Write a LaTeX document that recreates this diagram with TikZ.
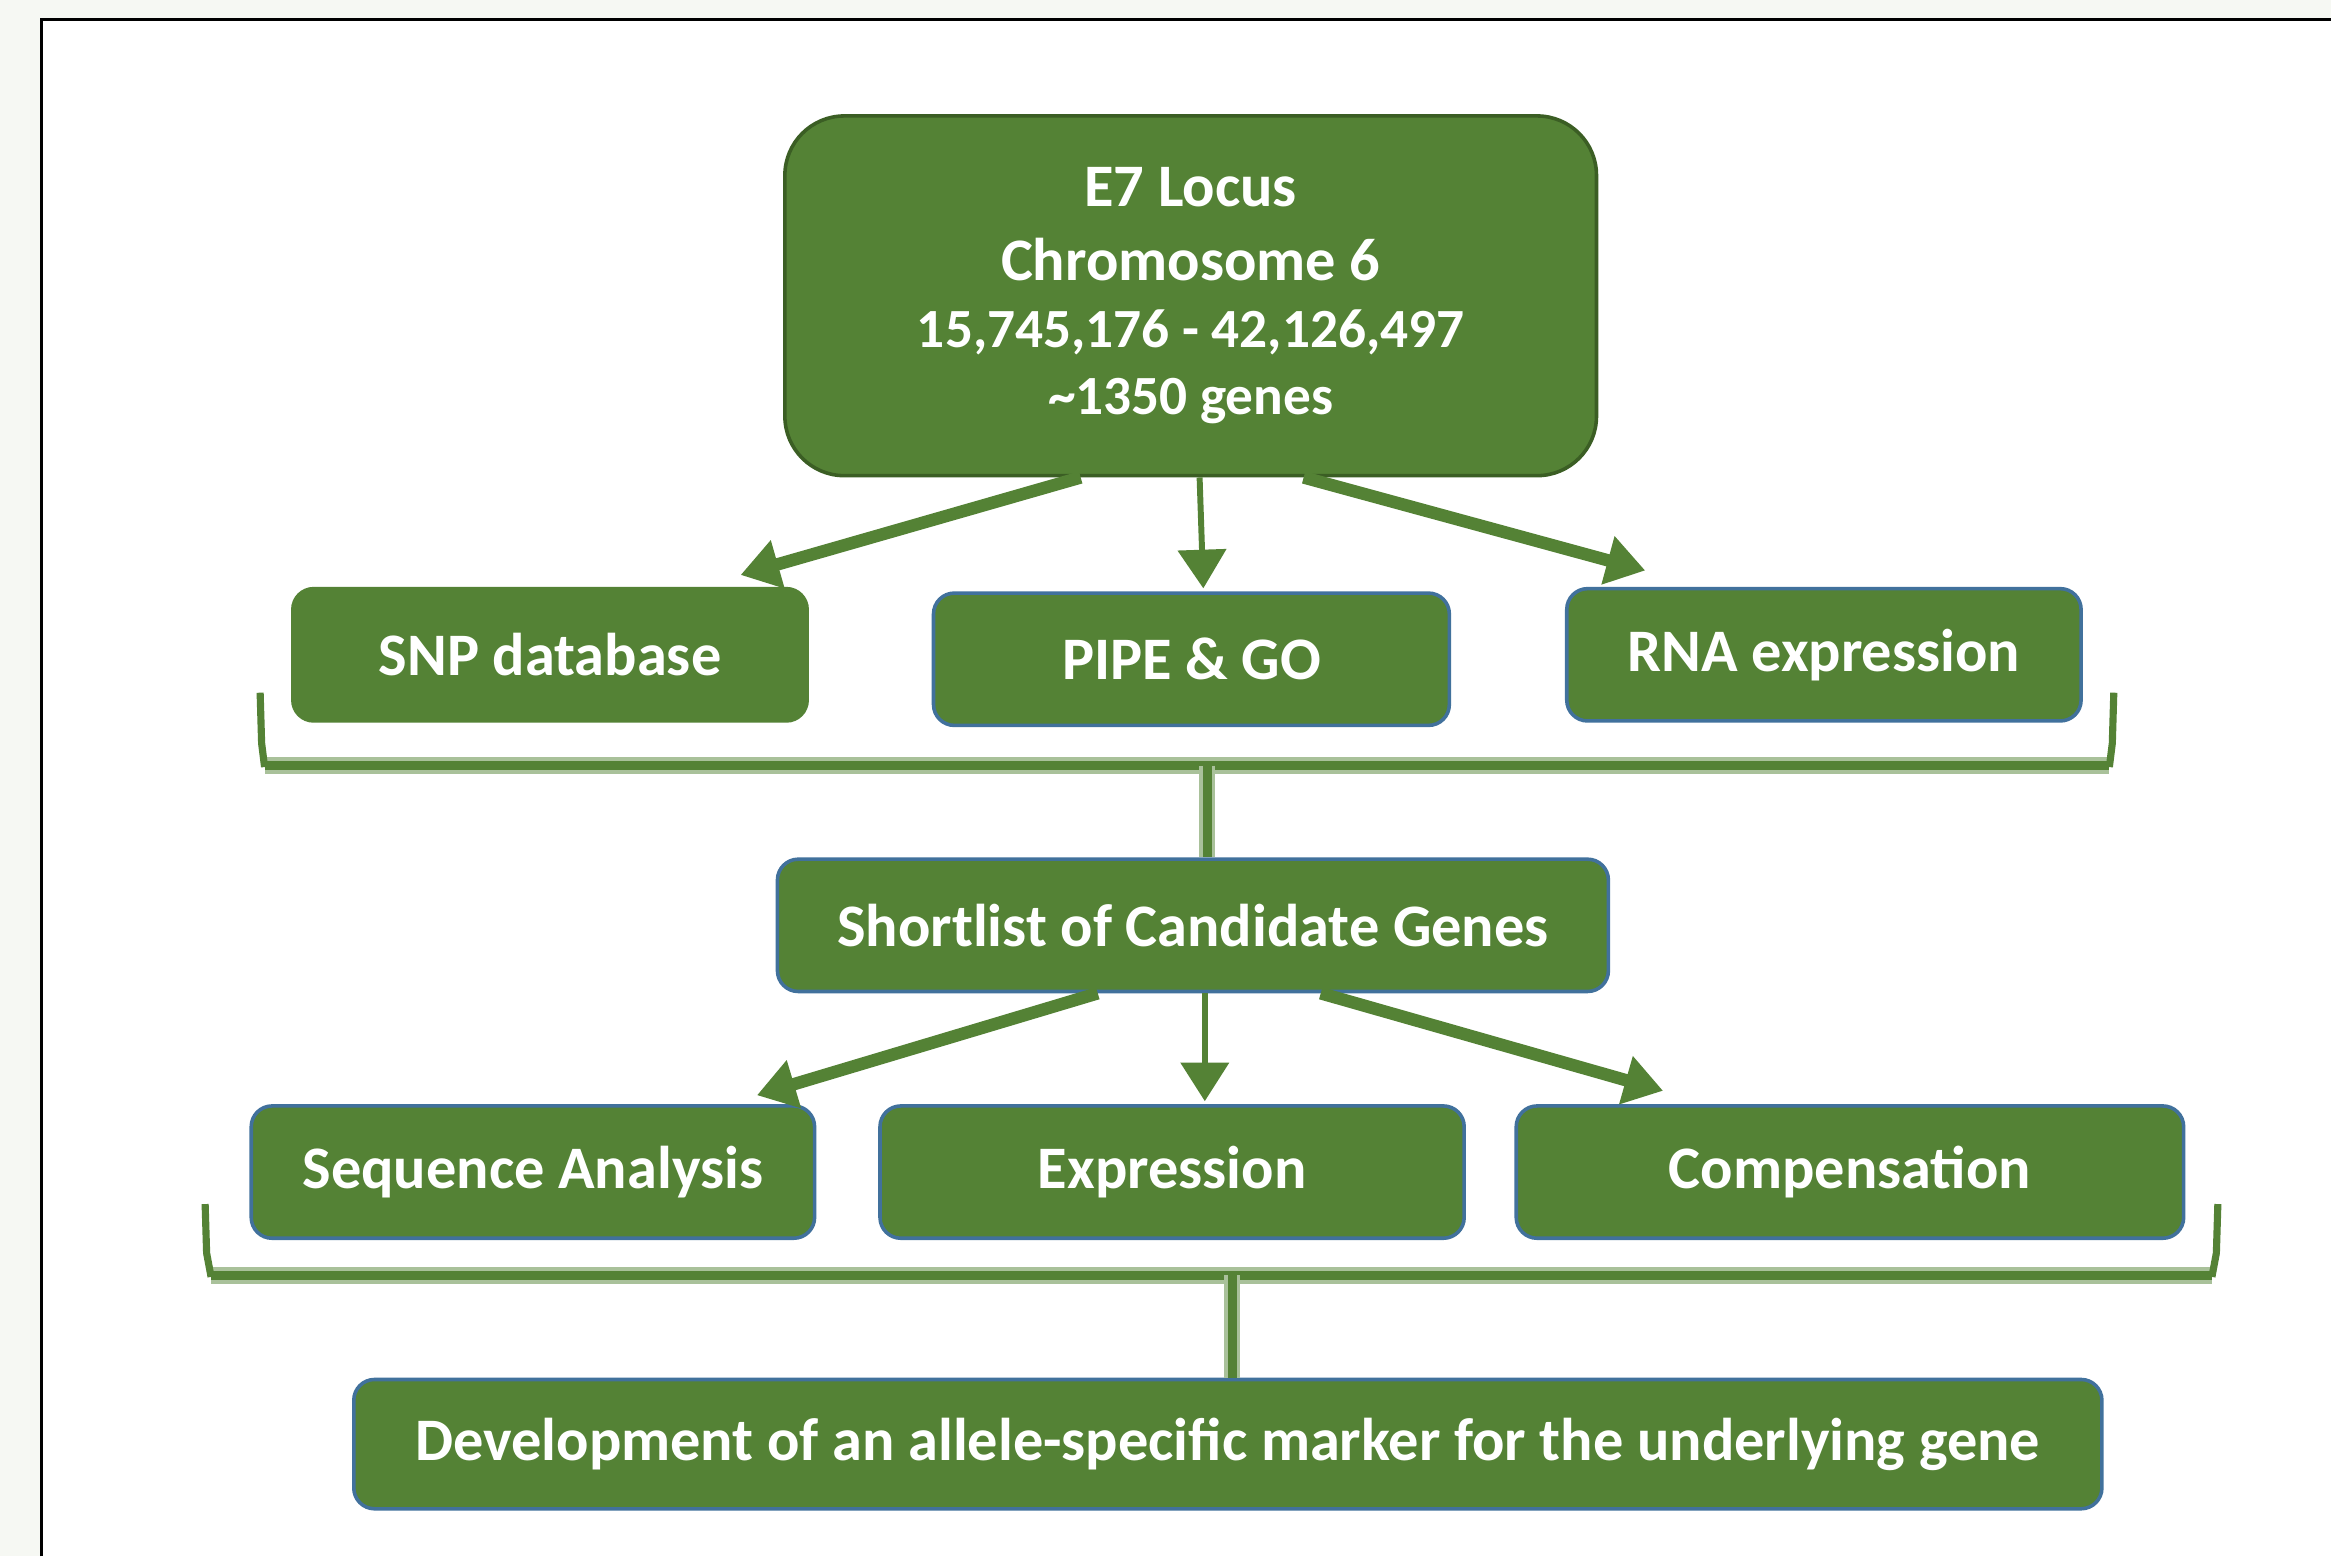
\documentclass[tikz,border=0pt]{standalone}
\usepackage{fontspec}
\setmainfont{Carlito}
\usetikzlibrary{arrows.meta}
\definecolor{leaf}{HTML}{548235}
\definecolor{leafdark}{HTML}{3B5E24}
\definecolor{leafpale}{HTML}{A9C19A}
\definecolor{edgeblue}{HTML}{41719C}
\definecolor{paper}{HTML}{F6F8F3}
\tikzset{
  stage/.style={draw=edgeblue,line width=1.2pt,fill=leaf,rounded corners=7pt,text=white,
    font=\bfseries\fontsize{20.3}{24}\selectfont,minimum height=44.5pt,inner sep=0pt},
  feed/.style={draw=leaf,line width=4.2pt,-{Triangle[length=13pt,width=16pt,fill=leaf]}},
  thinfeed/.style={feed,line width=2pt},
  brace/.style={draw=leaf,line width=3pt,preaction={draw=leafpale,line width=5.5pt}},
  braceend/.style={draw=leaf,line width=2.4pt}
}
\begin{document}
\begin{tikzpicture}[x=0.5pt,y=-0.5pt]
  \fill[paper] (0,0) rectangle (1568,1047);
  \fill[white] (28,13) rectangle (1568,1047);
  \draw[line width=0.8pt] (28,1047) -- (28,13) -- (1568,13);

  \node[stage,draw=leafdark,rounded corners=20pt,minimum width=273pt,minimum height=121pt,align=center]
    (locus) at (801,199) {E7 Locus\\[1pt]Chromosome 6\\[-1.5pt]
    {\fontsize{18.6}{22}\selectfont 15,745,176 - 42,126,497}\\[-1.5pt]
    {\fontsize{18.6}{22}\selectfont \textasciitilde1350 genes}};
  \node[stage,draw=leaf,minimum width=173pt] (snp) at (370,440.5) {SNP database};
  \node[stage,minimum width=173.5pt] (pipe) at (801.5,443.5) {PIPE \& GO};
  \node[stage,minimum width=173pt] (rna) at (1227,440.5) {RNA expression};
  \node[stage,minimum width=279.5pt] (short) at (802.5,622.5) {Shortlist of Candidate Genes};
  \node[stage,minimum width=189.5pt] (seq) at (358.5,788.5) {Sequence Analysis};
  \node[stage,minimum width=196.5pt] (expr) at (788.5,788.5) {Expression};
  \node[stage,minimum width=224.5pt] (comp) at (1244.5,788.5) {Compensation};
  \node[stage,minimum width=588pt,minimum height=43.5pt] (dev) at (826,971.5)
    {Development of an allele-specific marker for the underlying gene};

  \draw[feed] ([xshift=-37pt]locus.south) -- ([xshift=-23pt,yshift=4pt]snp.north east);
  \draw[thinfeed] ([xshift=3pt]locus.south) -- ([xshift=4pt,yshift=1pt]pipe.north);
  \draw[feed] ([xshift=38pt]locus.south) -- ([xshift=27pt,yshift=5.5pt]rna.north west);

  \coordinate (b1l) at (175,466);
  \coordinate (b1r) at (1422,466);
  \coordinate (b1m) at (812,515);
  \draw[brace] (178,515) -- (1419,515);
  \draw[braceend] (b1l) -- (176,500) -- (178,516);
  \draw[braceend] (b1r) -- (1421,500) -- (1419,516);
  \draw[brace] (b1m) -- (b1m |- short.north);

  \draw[feed] ([xshift=-32pt]short.south) -- ([xshift=-20pt,yshift=3pt]seq.north east);
  \draw[thinfeed] ([xshift=4pt]short.south) -- ([xshift=11pt,yshift=1pt]expr.north);
  \draw[feed] ([xshift=43pt]short.south) -- ([xshift=50pt,yshift=4.5pt]comp.north west);

  \coordinate (b2l) at (138,810);
  \coordinate (b2r) at (1492,810);
  \coordinate (b2m) at (829,858);
  \draw[brace] (142,858) -- (1488,858);
  \draw[braceend] (b2l) -- (139,843) -- (142,859);
  \draw[braceend] (b2r) -- (1491,843) -- (1488,859);
  \draw[brace] (b2m) -- (b2m |- dev.north);
\end{tikzpicture}
\end{document}
